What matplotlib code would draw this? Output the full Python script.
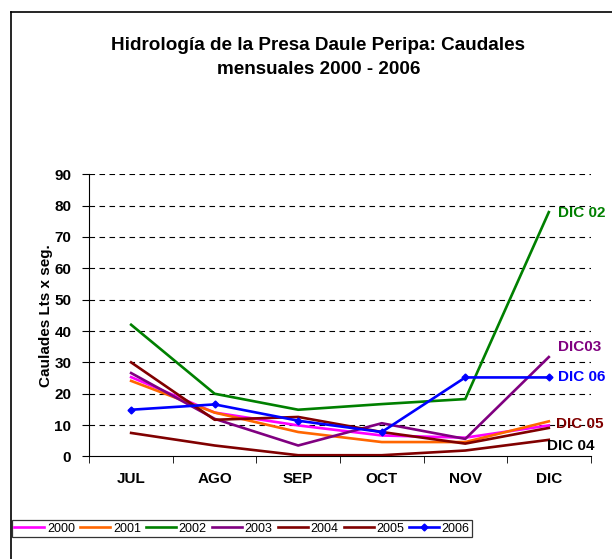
import matplotlib
matplotlib.use("Agg")
import matplotlib.pyplot as plt
from matplotlib.lines import Line2D

plt.rcParams['font.family'] = ['Liberation Sans', 'DejaVu Sans']

# months (Jul - Dic)
months = ["JUL", "AGO", "SEP", "OCT", "NOV", "DIC"]

# caudales
y2000 = [25.3, 14.0, 9.9, 6.7, 6.0, 9.9]
y2001 = [24.1, 14.0, 7.8, 4.6, 4.6, 11.2]
y2002 = [42.0, 20.0, 14.9, 16.7, 18.3, 77.9]
y2003 = [26.6, 12.0, 3.5, 10.6, 5.6, 31.7]
y2004 = [7.5, 3.5, 0.4, 0.4, 1.9, 5.3]
y2005 = [30.0, 11.7, 12.6, 7.8, 4.1, 9.1]
y2006 = [14.9, 16.6, 11.4, 7.8, 25.2, 25.2]

years = ["2000", "2001", "2002", "2003", "2004", "2005", "2006"]
series = [y2000, y2001, y2002, y2003, y2004, y2005, y2006]
colors = ["#FF00FF", "#FF6600", "#008000", "#800080", "#800000", "#800000", "#0000FF"]

end_labels = ["DIC 02", "DIC03", "DIC 06", "DIC 05", "DIC 04"]
end_label_y = [77.6, 34.8, 25.2, 10.5, 3.2]
end_label_dx = [0.11, 0.11, 0.11, 0.09, -0.02]
end_label_col = ["#008000", "#800080", "#0000FF", "#800000", "#000000"]

fig = plt.figure(figsize=(6.12, 5.59), dpi=100)
ax = fig.add_axes([0.146, 0.1834, 0.819, 0.505])

x = list(range(len(months)))
for yr, ys, c in zip(years, series, colors):
    if yr == "2006":
        ax.plot(x, ys, color=c, lw=1.9, marker="D", markersize=3.5, label=yr, zorder=3)
    else:
        ax.plot(x, ys, color=c, lw=1.9, label=yr, zorder=3)

for t, yy, dx, c in zip(end_labels, end_label_y, end_label_dx, end_label_col):
    ax.text(5 + dx, yy, t, color=c, fontsize=11, fontweight="bold", va="center", ha="left")

ax.set_xlim(-0.5, 5.5)
ax.set_ylim(0, 90)
ax.set_yticks(range(0, 91, 10))
ax.set_xticks(x)
ax.set_xticklabels(months, fontweight="bold", fontsize=11)
ax.set_xticks([i + 0.5 for i in range(-1, 6)], minor=True)
ax.tick_params(axis="x", which="major", length=0, pad=11)
ax.tick_params(axis="x", which="minor", length=5, direction="out")
ax.tick_params(axis="y", length=5, direction="out", labelsize=11, pad=8)
for lb in ax.get_yticklabels():
    lb.set_fontweight("bold")

for v in range(10, 91, 10):
    ax.axhline(v, color="black", lw=0.8, ls=(0, (5, 4)), zorder=1)

ax.spines["top"].set_visible(False)
ax.spines["right"].set_visible(False)
ax.set_ylabel("Caulades Lts x seg.", fontweight="bold", fontsize=11, labelpad=1)

fig.text(0.52, 0.919, "Hidrología de la Presa Daule Peripa: Caudales", ha="center", va="center",
         fontsize=13.6, fontweight="bold")
fig.text(0.52, 0.875, "mensuales 2000 - 2006", ha="center", va="center",
         fontsize=13.6, fontweight="bold")

leg = fig.legend(loc="center", bbox_to_anchor=(0.0196, 0.039, 0.752, 0.03), mode="expand",
                 ncol=7, fontsize=9, handlelength=2.4, handletextpad=0.2, columnspacing=0.5,
                 borderaxespad=0, borderpad=0.2, frameon=True, fancybox=False)
leg.get_frame().set_edgecolor("black")
leg.get_frame().set_linewidth(0.9)

# outer chart border (top and left visible)
fig.add_artist(Line2D([11 / 612, 1], [1 - 12 / 559, 1 - 12 / 559], color="black", lw=1.2))
fig.add_artist(Line2D([11 / 612, 11 / 612], [0, 1 - 12 / 559], color="black", lw=1.2))

fig.savefig("out.png", dpi=100)
